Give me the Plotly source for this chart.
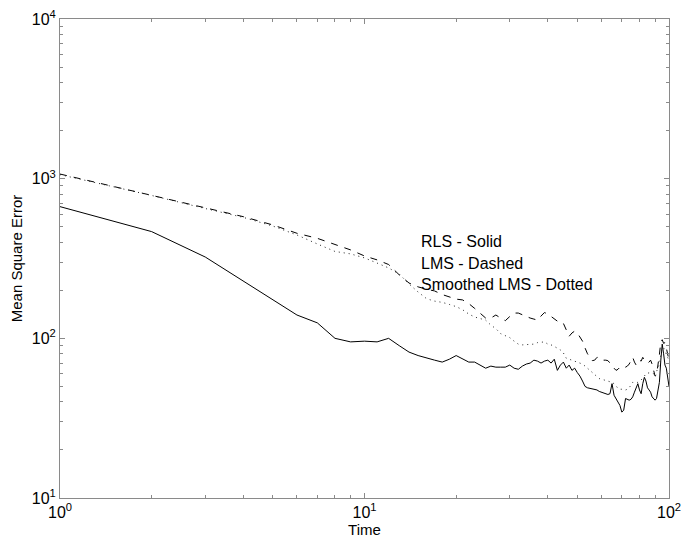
import plotly.graph_objects as go

time = list(range(1, 101))

rls = [668, 466, 323, 228, 174, 140, 125, 100, 95, 96,
       95, 100, 90, 82, 78, 75, 73, 71, 74, 78,
       74, 71, 71, 68, 65, 67, 66, 66, 66, 68,
       65, 64, 67, 69, 70, 73, 72, 70, 72, 73,
       70, 74, 63, 68, 71, 65, 68, 63, 65, 61,
       58, 54, 50, 49, 48.5, 48.5, 48, 47.5, 46.5, 46,
       45, 45, 44.5, 45, 52, 44, 42, 40, 38, 34.5,
       35.5, 42, 41.5, 41, 41.5, 43, 46, 49, 52, 47.5,
       45, 52, 57, 54, 49, 47.5, 46, 43, 42, 41,
       42, 47.5, 53, 73, 92, 80, 68, 65, 55, 50]

lms = [1069, 790, 656, 578, 513, 455, 423, 388, 358, 328,
       310, 290, 250, 222, 210, 203, 198, 188, 182, 176,
       174, 165, 154, 144, 134, 134, 140, 134, 129, 137,
       144, 144, 140, 137, 134, 132, 130, 138, 145, 142,
       137, 132, 127, 124, 124, 113, 103, 108, 111, 108,
       102, 96, 87, 80, 76, 72.5, 73, 76, 76, 74.5,
       73, 73, 72.5, 70, 68, 65, 63, 64, 66, 66,
       65, 66, 67, 69, 73, 76, 71, 68, 71, 73,
       72, 76, 73, 71, 70, 71, 73, 69, 63, 58,
       59, 67, 79, 95, 98, 93, 94, 87, 79, 73]

smoothed_lms = [1060, 785, 650, 572, 505, 444, 390, 350, 338, 319,
                296, 276, 253, 219, 195, 177, 171, 168, 163, 158,
                151, 142, 136, 133, 130, 121, 115, 107, 104, 101,
                96, 92, 91, 91.5, 92, 92, 94, 95, 95, 92,
                91, 89, 87, 84.5, 81, 75, 74, 73, 72, 71,
                70, 69, 67, 65, 63, 61, 60, 58, 56, 55.5,
                55, 55, 54, 54, 53, 52, 50, 49, 48, 48,
                47.5, 47.5, 48, 49, 51, 53, 53, 53, 53, 54,
                55, 56, 58, 60, 60.5, 61, 61, 60.5, 60, 60.5,
                62, 65, 69, 79, 86, 87, 84.5, 79, 76, 73]

legend_lines = ["RLS - Solid", "LMS - Dashed", "Smoothed LMS - Dotted"]

font_family = "Liberation Sans, Arial, Helvetica, sans-serif"
axis_color = "#8a8a8a"

fig = go.Figure()
fig.add_trace(go.Scatter(x=time, y=rls, mode="lines",
                         line=dict(color="black", width=1)))
fig.add_trace(go.Scatter(x=time, y=lms, mode="lines",
                         line=dict(color="black", width=1, dash="7px,7px")))
fig.add_trace(go.Scatter(x=time, y=smoothed_lms, mode="lines",
                         line=dict(color="#222", width=1, dash="1px,4px")))

for i, txt in enumerate(legend_lines):
    fig.add_annotation(text=txt, xref="paper", yref="paper",
                       x=(419 - 60) / 609, y=1 - (241.5 + 21.5 * i - 19) / 479,
                       xanchor="left", yanchor="middle", showarrow=False,
                       font=dict(size=16, color="black", family=font_family))

minor_y = [m * 10 ** e for e in range(1, 4) for m in range(2, 10)]
minor_x = [m * 10 ** e for e in range(0, 2) for m in range(2, 10)]

fig.update_layout(
    width=682, height=533,
    margin=dict(l=52, r=21, t=11, b=43),
    paper_bgcolor="white", plot_bgcolor="white",
    showlegend=False,
    font=dict(family=font_family, color="black", size=16),
    xaxis=dict(type="log", range=[0, 2], automargin=False,
               tickvals=[1, 10, 100],
               ticktext=["10<sup>0</sup>", "10<sup>1</sup>", "10<sup>2</sup>"],
               ticks="inside", ticklen=5, tickcolor=axis_color,
               ticklabeloverflow="allow",
               minor=dict(tickvals=minor_x, ticks="inside", ticklen=3,
                          tickcolor=axis_color, showgrid=False),
               showline=True, linecolor=axis_color, linewidth=1, mirror="ticks",
               showgrid=False, zeroline=False,
               tickfont=dict(size=16),
               title=dict(text="Time", font=dict(size=15), standoff=2)),
    yaxis=dict(type="log", range=[1, 4], automargin=False,
               tickvals=[10, 100, 1000, 10000],
               ticktext=["10<sup>1</sup>", "10<sup>2</sup>", "10<sup>3</sup>", "10<sup>4</sup>"],
               ticks="inside", ticklen=5, tickcolor=axis_color,
               ticklabeloverflow="allow",
               minor=dict(tickvals=minor_y, ticks="inside", ticklen=3,
                          tickcolor=axis_color, showgrid=False),
               showline=True, linecolor=axis_color, linewidth=1, mirror="ticks",
               showgrid=False, zeroline=False,
               tickfont=dict(size=16),
               title=dict(text="Mean Square Error", font=dict(size=15), standoff=6)),
)

fig.write_html("out.html")
